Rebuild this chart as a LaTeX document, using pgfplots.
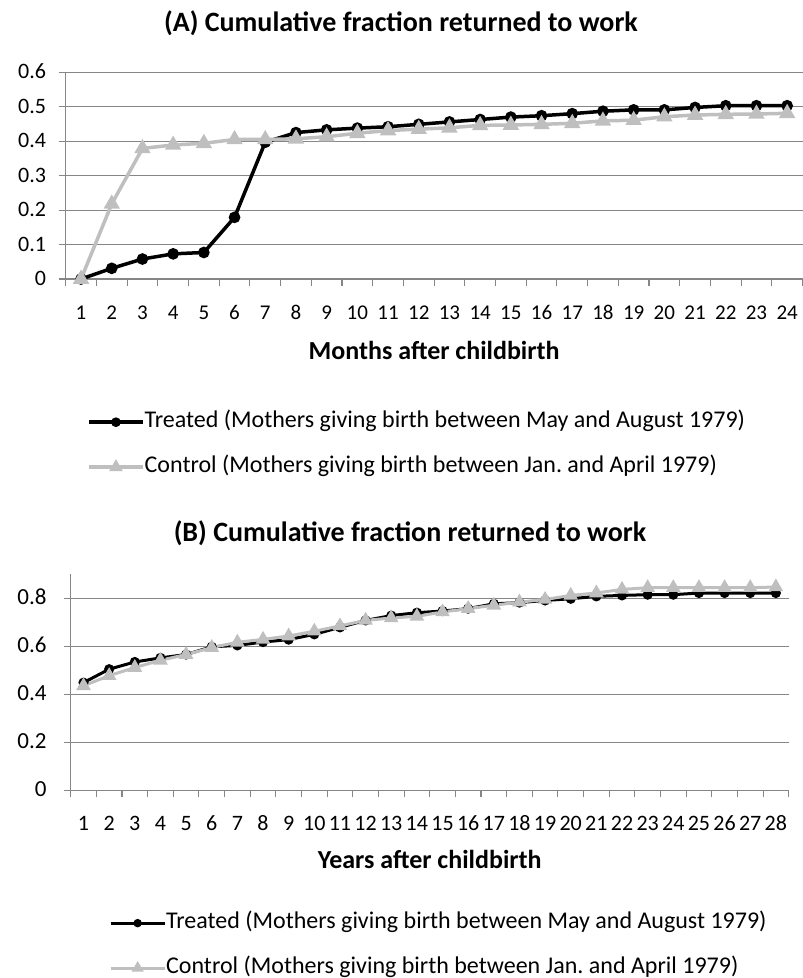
\documentclass[border=0pt]{standalone}
\usepackage{fontspec}
\setmainfont{Carlito}
\usepackage{pgfplots}
\pgfplotsset{compat=1.18}
\definecolor{gridgray}{RGB}{134,134,134}
\definecolor{ctrl}{RGB}{191,191,191}

\pgfplotsset{
  panel/.style={
    scale only axis, clip=false,
    axis x line*=bottom, axis y line*=left,
    axis line style={draw=gridgray, line width=1.1pt, -},
    ymajorgrids, grid style={draw=gridgray, line width=1.1pt},
    tick align=outside, major tick length=7pt, minor tick length=7pt,
    every major x tick/.append style={draw=none},
    every minor x tick/.append style={draw=gridgray, line width=1.1pt},
    ytick style={draw=gridgray, line width=1.1pt},
    /pgf/number format/assume math mode=true,
    ticklabel style={inner sep=0pt, text height=13pt, text depth=0pt},
    xticklabel style={yshift=-20pt},
    yticklabel style={/pgf/number format/fixed, /pgf/number format/precision=1},
    xlabel style={font=\fontsize{26}{30}\selectfont\bfseries, anchor=center},
    legend cell align=left,
    legend style={draw=none, fill=none, font=\fontsize{24}{28}\selectfont,
      anchor=north west, row sep=25pt, inner sep=0pt,
      nodes={inner sep=0pt, text height=15pt, text depth=5pt}},
    legend image code/.code={\draw[mark repeat=2,mark phase=2,##1,
      mark options={scale=0.75}]
      plot coordinates {(0pt,0pt) (27pt,0pt) (54pt,0pt)};},
  },
  treated/.style={black, line width=3.5pt, mark=*, mark size=4pt, mark options={solid}},
  control/.style={ctrl, line width=3.5pt, mark=triangle*, mark size=6pt, mark options={solid}},
}

\begin{document}
\begin{tikzpicture}
\path[use as bounding box] (0pt,0pt) rectangle (803pt,-978pt);

% Panel A: months
\node[font=\fontsize{28}{32}\selectfont\bfseries] at (401pt,-23pt)
  {(A) Cumulative fraction returned to work};
\begin{axis}[panel,
  at={(65.7pt,-279pt)}, anchor=south west,
  width=736.8pt, height=206.7pt,
  xmin=0.5, xmax=24.5, ymin=0, ymax=0.6,
  xtick={1,...,24}, minor xtick={0.5,1.5,...,24.5},
  ytick={0,0.1,...,0.6},
  xticklabel style={font=\fontsize{21}{25}\selectfont},
  yticklabel style={font=\fontsize{22}{26}\selectfont, xshift=-12.5pt},
  xlabel={Months after childbirth},
  xlabel style={at={(axis description cs:0.5,-0.3435)}},
  legend style={at={(axis description cs:0.0289,-0.6435)}},
]
\addplot[treated] coordinates {
(1,0) (2,0.031) (3,0.058) (4,0.073) (5,0.077) (6,0.179) (7,0.397) (8,0.425)
(9,0.433) (10,0.438) (11,0.442) (12,0.449) (13,0.456) (14,0.463) (15,0.470)
(16,0.474) (17,0.480) (18,0.487) (19,0.491) (20,0.491) (21,0.498) (22,0.503)
(23,0.503) (24,0.503)};
\addplot[control] coordinates {
(1,0) (2,0.218) (3,0.379) (4,0.389) (5,0.394) (6,0.405) (7,0.405) (8,0.407)
(9,0.413) (10,0.423) (11,0.431) (12,0.435) (13,0.439) (14,0.446) (15,0.447)
(16,0.449) (17,0.452) (18,0.459) (19,0.461) (20,0.471) (21,0.476) (22,0.478)
(23,0.479) (24,0.481)};
\legend{Treated (Mothers giving birth between May and August 1979),
        Control (Mothers giving birth between Jan.\ and April 1979)}
\end{axis}

% Panel B: years
\node[font=\fontsize{28}{32}\selectfont\bfseries] at (410pt,-533pt)
  {(B) Cumulative fraction returned to work};
\begin{axis}[panel,
  at={(70.7pt,-790.3pt)}, anchor=south west,
  width=718pt, height=216.3pt,
  xmin=0.5, xmax=28.5, ymin=0, ymax=0.9,
  xtick={1,...,28}, minor xtick={0.5,1.5,...,28.5},
  ytick={0,0.2,...,0.8},
  xticklabel style={font=\fontsize{22}{26}\selectfont},
  yticklabel style={font=\fontsize{23}{27}\selectfont, xshift=-17pt},
  xlabel={Years after childbirth},
  xlabel style={at={(axis description cs:0.5,-0.322)}},
  legend style={at={(axis description cs:0.0533,-0.567)}},
  treated/.append style={line width=3pt, mark size=3.5pt},
  control/.append style={line width=3pt, mark size=5.5pt},
]
\addplot[treated] coordinates {
(1,0.448) (2,0.504) (3,0.534) (4,0.551) (5,0.565) (6,0.597) (7,0.603) (8,0.617)
(9,0.627) (10,0.649) (11,0.678) (12,0.707) (13,0.727) (14,0.739) (15,0.746)
(16,0.756) (17,0.776) (18,0.781) (19,0.790) (20,0.797) (21,0.807) (22,0.811)
(23,0.814) (24,0.814) (25,0.821) (26,0.821) (27,0.821) (28,0.821)};
\addplot[control] coordinates {
(1,0.435) (2,0.477) (3,0.511) (4,0.541) (5,0.565) (6,0.594) (7,0.616) (8,0.628)
(9,0.642) (10,0.662) (11,0.684) (12,0.707) (13,0.717) (14,0.724) (15,0.742)
(16,0.756) (17,0.770) (18,0.783) (19,0.794) (20,0.811) (21,0.821) (22,0.836)
(23,0.843) (24,0.843) (25,0.843) (26,0.843) (27,0.843) (28,0.846)};
\legend{Treated (Mothers giving birth between May and August 1979),
        Control (Mothers giving birth between Jan.\ and April 1979)}
\end{axis}
\end{tikzpicture}
\end{document}
